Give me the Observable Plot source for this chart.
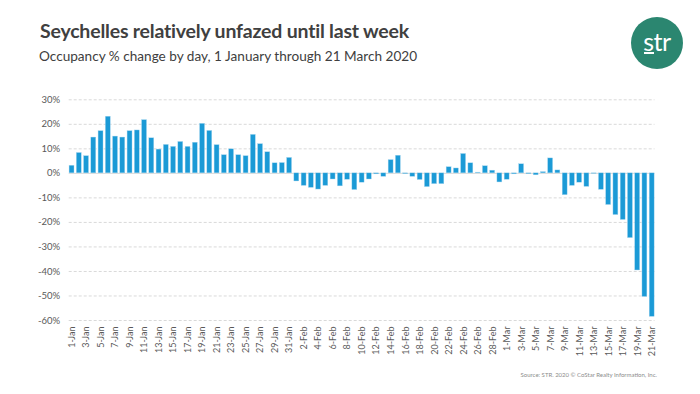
<!DOCTYPE html>
<html>
<head>
<meta charset="utf-8">
<script src="https://cdn.jsdelivr.net/npm/d3@7"></script>
<script src="https://cdn.jsdelivr.net/npm/@observablehq/plot@0.6"></script>
<style>
  html, body { margin: 0; padding: 0; background: #fff; }
  body { width: 700px; height: 394px; position: relative; overflow: hidden; font-family: Lato, "Open Sans", sans-serif; }
  #title { position: absolute; left: 40px; top: 19px; font-size: 19.5px; font-weight: 700; color: #404040; white-space: nowrap; letter-spacing: -0.2px; }
  #subtitle { position: absolute; left: 39px; top: 48px; font-size: 13.6px; color: #404040; white-space: nowrap; }
  #logo { position: absolute; left: 631px; top: 17px; width: 52px; height: 52px; border-radius: 50%; background: #2b8670; }
  #logo span { position: absolute; left: 0; width: 52px; top: 9px; text-align: center; color: #fff; font-size: 25px; font-weight: 400; letter-spacing: -0.5px; }
  #logo i { position: absolute; left: 13px; top: 35px; width: 10px; height: 2px; background: #fff; }
  #chart { position: absolute; left: 0; top: 80px; }
  #source { position: absolute; right: 43px; top: 371px; font-size: 6px; color: #8c8c8c; white-space: nowrap; }
</style>
</head>
<body>
<div id="title">Seychelles relatively unfazed until last week</div>
<div id="subtitle">Occupancy % change by day, 1 January through 21 March 2020</div>
<div id="logo"><span>str</span><i></i></div>
<div id="chart"></div>
<div id="source">Source: STR. 2020 © CoStar Realty Information, Inc.</div>
<script>
// Categories: month names and number of days shown in each month
const months = ["Jan", "Feb", "Mar"];
const daysShown = [31, 29, 21];

// Occupancy % change by day
const janValues = [3.1, 8.3, 7.0, 14.6, 17.2, 23.1, 15.0, 14.6, 17.2, 17.5, 21.7, 14.3, 9.7, 11.6, 10.8, 12.8,
  10.8, 12.5, 20.2, 17.3, 11.5, 7.4, 9.8, 7.4, 7.0, 15.7, 11.9, 8.6, 4.1, 4.2, 6.3];
const febValues = [-3.3, -5.1, -5.9, -6.6, -5.1, -2.5, -5.3, -2.6, -6.8, -3.8, -2.5, -0.4, -1.4, 5.4, 7.2, -0.3,
  -1.4, -2.7, -5.6, -4.4, -4.4, 2.5, 2.0, 7.9, 4.1, 0.3, 2.9, 1.1, -3.7];
const marValues = [-2.6, -0.4, 3.7, -0.3, -0.8, 0.5, 6.1, 1.2, -8.9, -5.1, -3.8, -5.5, -0.2, -6.7, -12.9, -17.0,
  -19.0, -26.4, -39.6, -50.4, -58.5];

// Y tick values (percent)
const yTicks = [30, 20, 10, 0, -10, -20, -30, -40, -50, -60];

const dayLabels = [];
months.forEach((m, mi) => { for (let d = 1; d <= daysShown[mi]; d++) dayLabels.push(`${d}-${m}`); });
const values = [...janValues, ...febValues, ...marValues];
const data = dayLabels.map((day, i) => ({ day, value: values[i] }));
const xTickLabels = dayLabels.filter((d, i) => i % 2 === 0);

const chart = Plot.plot({
  width: 700,
  height: 290,
  marginLeft: 68.7,
  marginRight: 45.5,
  marginTop: 19.3,
  marginBottom: 50,
  style: { fontFamily: "Lato, sans-serif", fontSize: "9px", color: "#595959", background: "transparent" },
  x: { domain: dayLabels, paddingInner: 0.32, paddingOuter: 0.05, round: false, axis: null, label: null },
  y: { domain: [-60, 30], axis: null, label: null },
  marks: [
    Plot.ruleY(yTicks.filter(d => d !== 0), { stroke: "#d9d9d9", strokeDasharray: "3,2", strokeWidth: 1 }),
    Plot.ruleY([0], { stroke: "#d9d9d9", strokeWidth: 1 }),
    Plot.barY(data, { x: "day", y: "value", fill: "#1b9ad6", stroke: "#a9d8f1", strokeWidth: 0.4 }),
    Plot.axisY({ ticks: yTicks, tickSize: 0, tickPadding: 9, tickFormat: d => `${d}%`, fill: "#595959", fontSize: 9.5, label: null }),
    Plot.axisX({ ticks: xTickLabels, tickSize: 0, tickRotate: -90, tickPadding: 6, fill: "#595959", fontSize: 9, label: null })
  ]
});
document.getElementById("chart").appendChild(chart);
</script>
</body>
</html>
